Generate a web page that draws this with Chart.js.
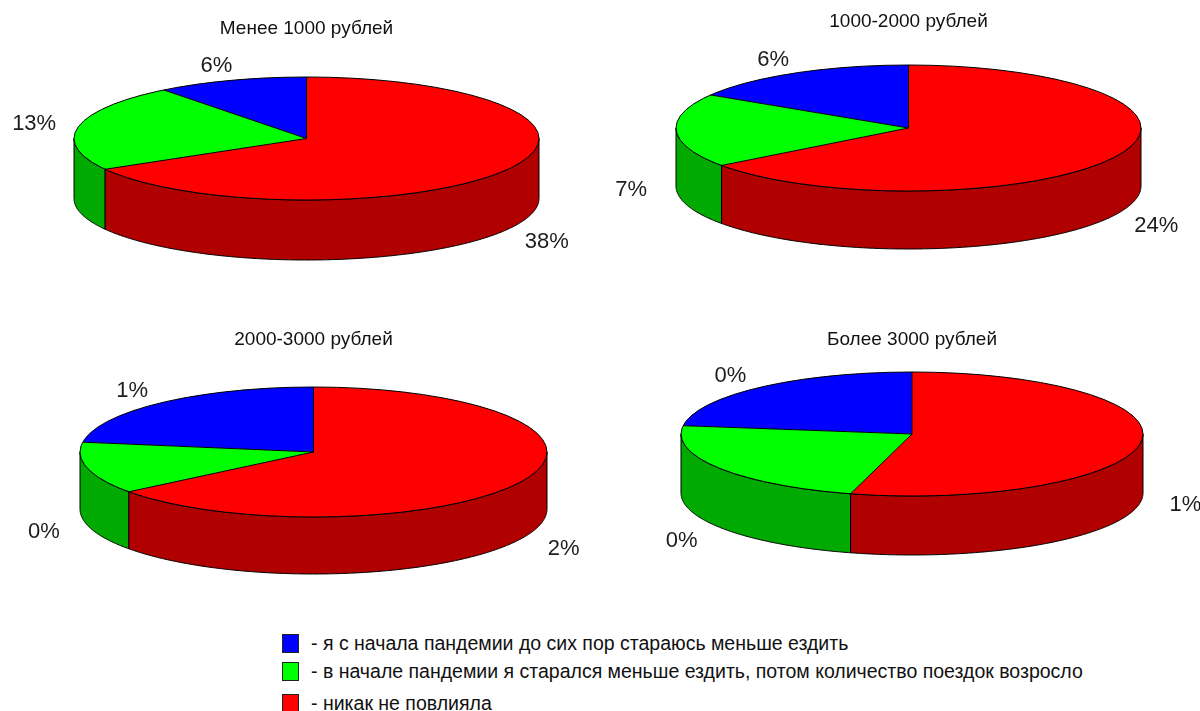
<!DOCTYPE html>
<html>
<head>
<meta charset="utf-8">
<script src="https://cdn.jsdelivr.net/npm/chart.js@4.4.1/dist/chart.umd.min.js"></script>
<style>
  html, body { margin: 0; padding: 0; background: #fff; width: 1200px; height: 711px; overflow: hidden;
               font-family: "Liberation Sans", Arial, sans-serif; }
  canvas.pie { position: absolute; }
  #legend { position: absolute; left: 282px; top: 634px; color: #111; font-size: 19.5px; }
  #legend .item { display: flex; align-items: center; height: 19px; white-space: nowrap; }
  #legend .item:nth-child(2) { margin-top: 9px; }
  #legend .item:nth-child(3) { margin-top: 13px; }
  #legend .sw { width: 17px; height: 19px; border: 1px solid #222; box-sizing: border-box; margin-right: 12px; }
</style>
</head>
<body>
<canvas id="pie0" class="pie"></canvas>
<canvas id="pie1" class="pie"></canvas>
<canvas id="pie2" class="pie"></canvas>
<canvas id="pie3" class="pie"></canvas>
<div id="legend"></div>
<script>
// Answer options (legend order)
const categories = [
  '- я с начала пандемии до сих пор стараюсь меньше ездить',
  '- в начале пандемии я старался меньше ездить, потом количество поездок возросло',
  '- никак не повлияла'
];

// Panel titles: monthly spending groups
const panelTitles = ['Менее 1000 рублей', '1000-2000 рублей', '2000-3000 рублей', 'Более 3000 рублей'];

// Share of all respondents, %
const under1000 = [6, 13, 38];
const from1000to2000 = [6, 7, 24];
const from2000to3000 = [0.7, 0.4, 2.0];
const over3000 = [0.4, 0.4, 0.95];

// Top faces and side walls
const topColors = ['#0000ff', '#00ff00', '#ff0000'];
const sideColors = ['#0000b0', '#00aa00', '#b00000'];

// Canvas placement, ellipse bounding box (incl. wall depth) and title line per panel
const panels = [
  { values: under1000,      canvas: { left: 0,   top: 0,   w: 600, h: 320 }, box: { left: 74, top: 77, right: 539, bottom: 260 }, depth: 60, titleY: 29 },
  { values: from1000to2000, canvas: { left: 600, top: 0,   w: 600, h: 320 }, box: { left: 76, top: 65, right: 541, bottom: 249 }, depth: 58, titleY: 22 },
  { values: from2000to3000, canvas: { left: 0,   top: 320, w: 600, h: 300 }, box: { left: 80, top: 67, right: 547, bottom: 254 }, depth: 57, titleY: 20 },
  { values: over3000,       canvas: { left: 600, top: 320, w: 600, h: 300 }, box: { left: 81, top: 52, right: 543, bottom: 235 }, depth: 59, titleY: 20 }
];

const TITLE_SIZE = 19;
const TITLE_LINE = TITLE_SIZE * 1.2;

// Tilted pie: walls under the slices, the library's arcs squashed onto the top face,
// then outlines and percentage labels.
const pie3d = {
  id: 'pie3d',
  geometry(chart) {
    const ca = chart.chartArea;
    const depth = chart.options.plugins.pie3d.depth;
    const rx = (ca.right - ca.left) / 2;
    const ry = (ca.bottom - ca.top - depth) / 2;
    const cx = (ca.left + ca.right) / 2;
    const cy = ca.top + ry;
    // mirrored horizontally so slices run counter-clockwise from 12 o'clock
    const pt = (a, dy = 0) => [cx - rx * Math.cos(a), cy + ry * Math.sin(a) + dy];
    return { rx, ry, cx, cy, depth, pt };
  },
  beforeDatasetsDraw(chart) {
    const ctx = chart.ctx;
    const g = this.geometry(chart);
    const arcs = chart.getDatasetMeta(0).data;
    const sides = chart.options.plugins.pie3d.sideColors;
    // front walls: the part of each slice whose rim faces the viewer (angles 0..PI)
    arcs.forEach((arc, i) => {
      const p = arc.getProps(['startAngle', 'endAngle'], true);
      const s = Math.max(p.startAngle, 0), e = Math.min(p.endAngle, Math.PI);
      if (e <= s) return;
      const n = Math.max(2, Math.ceil((e - s) / 0.01));
      ctx.beginPath();
      for (let k = 0; k <= n; k++) {
        const [x, y] = g.pt(s + (e - s) * k / n);
        k ? ctx.lineTo(x, y) : ctx.moveTo(x, y);
      }
      for (let k = n; k >= 0; k--) {
        const [x, y] = g.pt(s + (e - s) * k / n, g.depth);
        ctx.lineTo(x, y);
      }
      ctx.closePath();
      ctx.fillStyle = sides[i];
      ctx.fill();
      ctx.lineWidth = 1;
      ctx.strokeStyle = '#000';
      ctx.stroke();
    });
    // map the library's circle onto the top ellipse
    const p0 = arcs[0].getProps(['x', 'y', 'outerRadius'], true);
    ctx.save();
    ctx.translate(g.cx, g.cy);
    ctx.scale(-g.rx / p0.outerRadius, g.ry / p0.outerRadius);
    ctx.translate(-p0.x, -p0.y);
  },
  afterDatasetsDraw(chart) {
    const ctx = chart.ctx;
    ctx.restore();
    const g = this.geometry(chart);
    const arcs = chart.getDatasetMeta(0).data;
    const values = chart.data.datasets[0].data;
    ctx.save();
    ctx.lineWidth = 1;
    ctx.strokeStyle = '#000';
    ctx.beginPath();
    arcs.forEach(arc => {
      const p = arc.getProps(['startAngle'], true);
      const [x, y] = g.pt(p.startAngle);
      ctx.moveTo(g.cx, g.cy);
      ctx.lineTo(x, y);
    });
    ctx.stroke();
    ctx.beginPath();
    ctx.ellipse(g.cx, g.cy, g.rx, g.ry, 0, 0, Math.PI * 2);
    ctx.stroke();
    // percentage labels outside the rim
    ctx.font = '22px "Liberation Sans", Arial, sans-serif';
    ctx.fillStyle = '#1c1c1c';
    ctx.textAlign = 'center';
    ctx.textBaseline = 'middle';
    arcs.forEach((arc, i) => {
      const p = arc.getProps(['startAngle', 'endAngle'], true);
      const m = (p.startAngle + p.endAngle) / 2;
      const dx = -Math.cos(m), dy = Math.sin(m);
      const front = dy > 0;
      const lx = g.cx + dx * (g.rx + 45);
      const ly = g.cy + dy * (g.ry + (front ? 25 : 15)) + (front ? g.depth : 0);
      ctx.fillText(Math.round(values[i]) + '%', lx, ly);
    });
    ctx.restore();
  }
};

panels.forEach((pn, idx) => {
  const cv = document.getElementById('pie' + idx);
  cv.width = pn.canvas.w;
  cv.height = pn.canvas.h;
  cv.style.left = pn.canvas.left + 'px';
  cv.style.top = pn.canvas.top + 'px';
  new Chart(cv, {
    type: 'pie',
    data: {
      labels: categories,
      datasets: [{ data: pn.values, backgroundColor: topColors, borderWidth: 0 }]
    },
    options: {
      responsive: false,
      animation: false,
      events: [],
      layout: {
        padding: { left: pn.box.left, right: pn.canvas.w - pn.box.right, top: 0, bottom: pn.canvas.h - pn.box.bottom }
      },
      plugins: {
        legend: { display: false },
        tooltip: { enabled: false },
        title: {
          display: true,
          text: panelTitles[idx],
          color: '#111',
          font: { family: '"Liberation Sans", Arial, sans-serif', size: TITLE_SIZE, weight: 'normal', lineHeight: 1.2 },
          padding: { top: pn.titleY - TITLE_LINE / 2, bottom: pn.box.top - pn.titleY - TITLE_LINE / 2 }
        },
        pie3d: { depth: pn.depth, sideColors: sideColors }
      }
    },
    plugins: [pie3d]
  });
});

// shared legend
const legend = document.getElementById('legend');
categories.forEach((txt, i) => {
  const row = document.createElement('div');
  row.className = 'item';
  const sw = document.createElement('span');
  sw.className = 'sw';
  sw.style.background = topColors[i];
  const lab = document.createElement('span');
  lab.textContent = txt;
  row.appendChild(sw);
  row.appendChild(lab);
  legend.appendChild(row);
});
</script>
</body>
</html>
